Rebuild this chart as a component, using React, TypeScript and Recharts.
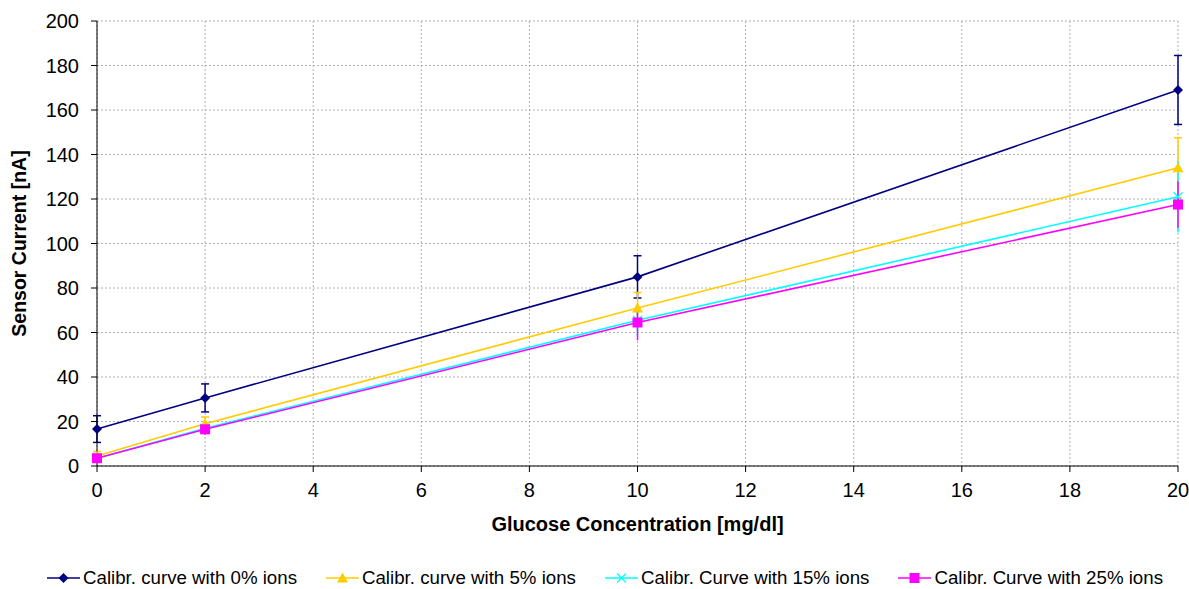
import React from "react";
import {
  LineChart,
  Line,
  XAxis,
  YAxis,
  CartesianGrid,
  ErrorBar,
  Legend,
} from "recharts";

const glucose = [0, 2, 10, 20];

const ions0 = [16.6, 30.6, 85, 169];
const ions0Err = [6, 6.3, 9.5, 15.5];
const ions5 = [4.5, 19, 71, 134];
const ions5Err = [2, 3, 7, 13.5];
const ions15 = [3.5, 17, 65.5, 121];
const ions15Err = [2, 2.5, 7, 16];
const ions25 = [3.5, 16.5, 64.5, 117.5];
const ions25Err = [2, 2.5, 8, 10.5];

const xTicks = [0, 2, 4, 6, 8, 10, 12, 14, 16, 18, 20];
const yTicks = [0, 20, 40, 60, 80, 100, 120, 140, 160, 180, 200];

const data = glucose.map((g, i) => ({
  g,
  s0: ions0[i],
  e0: ions0Err[i],
  s5: ions5[i],
  e5: ions5Err[i],
  s15: ions15[i],
  e15: ions15Err[i],
  s25: ions25[i],
  e25: ions25Err[i],
}));

const FONT = "'Liberation Sans', Arial, sans-serif";

type Marker = "diamond" | "triangle" | "cross" | "square";

function drawMarker(kind: Marker, cx: number, cy: number, color: string, key?: string) {
  if (kind === "diamond") {
    const r = 5;
    return (
      <polygon
        key={key}
        points={`${cx},${cy - r} ${cx + r},${cy} ${cx},${cy + r} ${cx - r},${cy}`}
        fill={color}
      />
    );
  }
  if (kind === "triangle") {
    const r = 5.5;
    return (
      <polygon
        key={key}
        points={`${cx},${cy - r} ${cx + r},${cy + r * 0.8} ${cx - r},${cy + r * 0.8}`}
        fill={color}
      />
    );
  }
  if (kind === "cross") {
    const r = 4.5;
    return (
      <g key={key} stroke={color} strokeWidth={1.3}>
        <line x1={cx - r} y1={cy - r} x2={cx + r} y2={cy + r} />
        <line x1={cx - r} y1={cy + r} x2={cx + r} y2={cy - r} />
      </g>
    );
  }
  return <rect key={key} x={cx - 5} y={cy - 5} width={10} height={10} fill={color} />;
}

const dotFor = (kind: Marker, color: string) => (props: any) => {
  const { cx, cy, index } = props;
  if (cx == null || cy == null) return <g key={`d-${index}`} />;
  return drawMarker(kind, cx, cy, color, `d-${kind}-${index}`);
};

const series = [
  { key: "s0", err: "e0", name: "Calibr. curve with 0% ions", color: "#000080", marker: "diamond" as Marker, cap: 4 },
  { key: "s5", err: "e5", name: "Calibr. curve with 5% ions", color: "#FFCC00", marker: "triangle" as Marker, cap: 4 },
  { key: "s15", err: "e15", name: "Calibr. Curve with 15% ions", color: "#00FFFF", marker: "cross" as Marker, cap: 0 },
  { key: "s25", err: "e25", name: "Calibr. Curve with 25% ions", color: "#FF00FF", marker: "square" as Marker, cap: 0 },
];

function LegendContent() {
  return (
    <div
      style={{
        display: "flex",
        justifyContent: "center",
        alignItems: "center",
        height: 22,
        gap: 29,
        paddingLeft: 32,
        fontFamily: FONT,
        fontSize: 18.7,
        color: "#000",
      }}
    >
      {series.map((s) => (
        <div key={s.key} style={{ display: "flex", alignItems: "center" }}>
          <svg width={33} height={14}>
            <line x1={0} y1={7} x2={33} y2={7} stroke={s.color} strokeWidth={1.5} />
            {drawMarker(s.marker, 16.5, 7, s.color)}
          </svg>
          <span style={{ marginLeft: 3 }}>{s.name}</span>
        </div>
      ))}
    </div>
  );
}

export default function App() {
  return (
    <div style={{ position: "absolute", left: 0, top: 0, background: "#fff" }}>
      <LineChart
        width={1189}
        height={589}
        data={data}
        margin={{ top: 21, right: 11, left: 0, bottom: 0 }}
      >
        <CartesianGrid stroke="#b0b0b0" strokeDasharray="2 2" />
        <XAxis
          dataKey="g"
          type="number"
          domain={[0, 20]}
          ticks={xTicks}
          interval={0}
          height={101}
          tickSize={6}
          tickMargin={11}
          stroke="#000"
          tick={{ fill: "#000", fontSize: 20, fontFamily: FONT }}
          label={{
            value: "Glucose Concentration [mg/dl]",
            position: "insideTop",
            offset: 51,
            style: { fontWeight: "bold", fontSize: 20, fontFamily: FONT, fill: "#000" },
          }}
        />
        <YAxis
          type="number"
          domain={[0, 200]}
          ticks={yTicks}
          interval={0}
          width={97}
          tickSize={6}
          tickMargin={12}
          stroke="#000"
          tick={{ fill: "#000", fontSize: 20, fontFamily: FONT }}
          label={{
            value: "Sensor Current [nA]",
            angle: -90,
            position: "insideLeft",
            offset: 19,
            style: { textAnchor: "middle", fontWeight: "bold", fontSize: 19.5, fontFamily: FONT, fill: "#000" },
          }}
        />
        <Legend verticalAlign="bottom" height={22} content={<LegendContent />} />
        {series.map((s) => (
          <Line
            key={s.key}
            dataKey={s.key}
            name={s.name}
            type="linear"
            stroke={s.color}
            strokeWidth={1.6}
            dot={dotFor(s.marker, s.color)}
            activeDot={false}
            isAnimationActive={false}
          >
            <ErrorBar
              dataKey={s.err}
              direction="y"
              width={s.cap}
              stroke={s.color}
              strokeWidth={1.5}
              isAnimationActive={false}
            />
          </Line>
        ))}
      </LineChart>
    </div>
  );
}
